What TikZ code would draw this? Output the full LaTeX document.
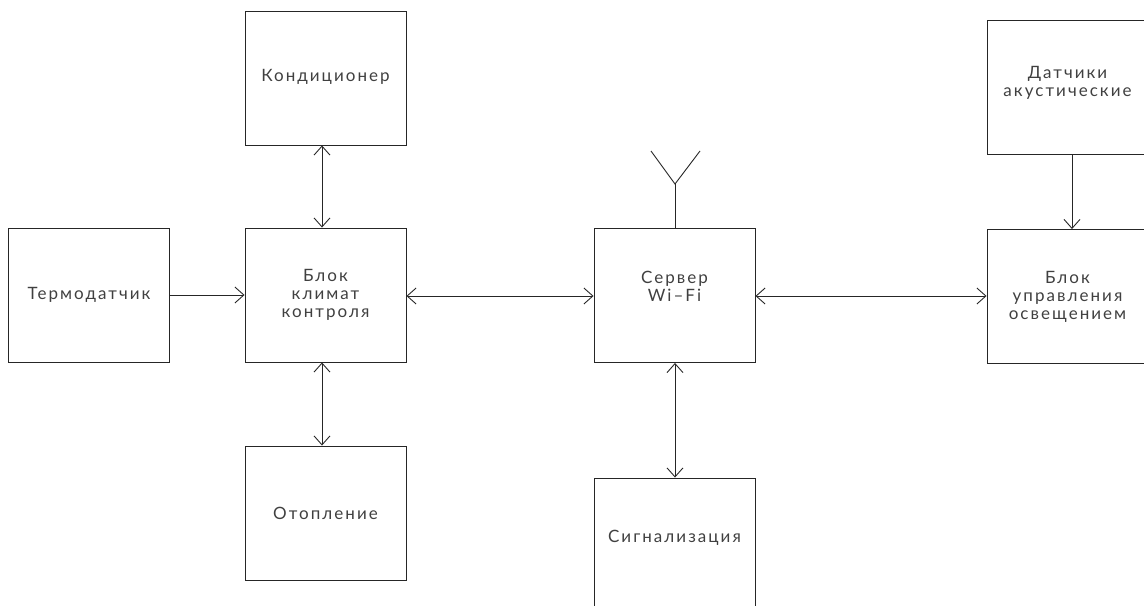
\documentclass[tikz,border=0pt]{standalone}
\usepackage{fontspec}
\setmainfont{Lato}[LetterSpace=12]
\usetikzlibrary{arrows.meta}
\begin{document}
\begin{tikzpicture}[x=1pt,y=-1pt,
  blk/.style={draw=black!85,line width=0.9pt,minimum width=161pt,minimum height=134pt,inner sep=0pt,
    align=center,font=\fontsize{17}{18}\selectfont,text=black!75},
  conn/.style={draw=black!85,line width=0.9pt},
  tip/.style={-{Straight Barb[length=9pt,width=16pt,line width=0.9pt]}},
  both/.style={{Straight Barb[length=9pt,width=16pt,line width=0.9pt]}-{Straight Barb[length=9pt,width=16pt,line width=0.9pt]}}]
\useasboundingbox (0,0) rectangle (1144,607);
\node[blk] (kond) at (325.5,78) {Кондиционер\\[-12pt]};
\node[blk] (term) at (89,295) {Термодатчик};
\node[blk] (klim) at (325.5,295) {Блок\\климат\\контроля};
\node[blk] (serv) at (674.5,295.5) {Сервер\\Wi–Fi\\[0pt]};
\node[blk] (otop) at (325.5,513) {Отопление};
\node[blk,minimum height=140pt] (sign) at (674.5,548) {Сигнализация\\[6pt]};
\node[blk] (dat) at (1067.5,87) {Датчики\\акустические\\[-6pt]};
\node[blk] (osv) at (1067.5,296.5) {Блок\\управления\\освещением};
% cover bottom edge of Сигнализация
\fill[white] (590,606) rectangle (760,620);
\draw[conn,both] (kond.south -| 322,0) -- (klim.north -| 322,0);
\draw[conn,tip] (term.east |- 0,295) -- (klim.west |- 0,295);
\draw[conn,both] (klim.east |- 0,296) -- (serv.west |- 0,296);
\draw[conn,both] (serv.east |- 0,296) -- (osv.west |- 0,296);
\draw[conn,both] (klim.south -| 322,0) -- (otop.north -| 322,0);
\draw[conn,both] (serv.south -| 675,0) -- (sign.north -| 675,0);
\draw[conn,tip] (dat.south -| 1072,0) -- (osv.north -| 1072,0);
\coordinate (ant) at (675,184);
\coordinate (antl) at (651,151);
\coordinate (antr) at (700,151);
\draw[conn] (serv.north -| 675,0) -- (ant);
\draw[conn] (antl) -- (ant) -- (antr);
\end{tikzpicture}
\end{document}
